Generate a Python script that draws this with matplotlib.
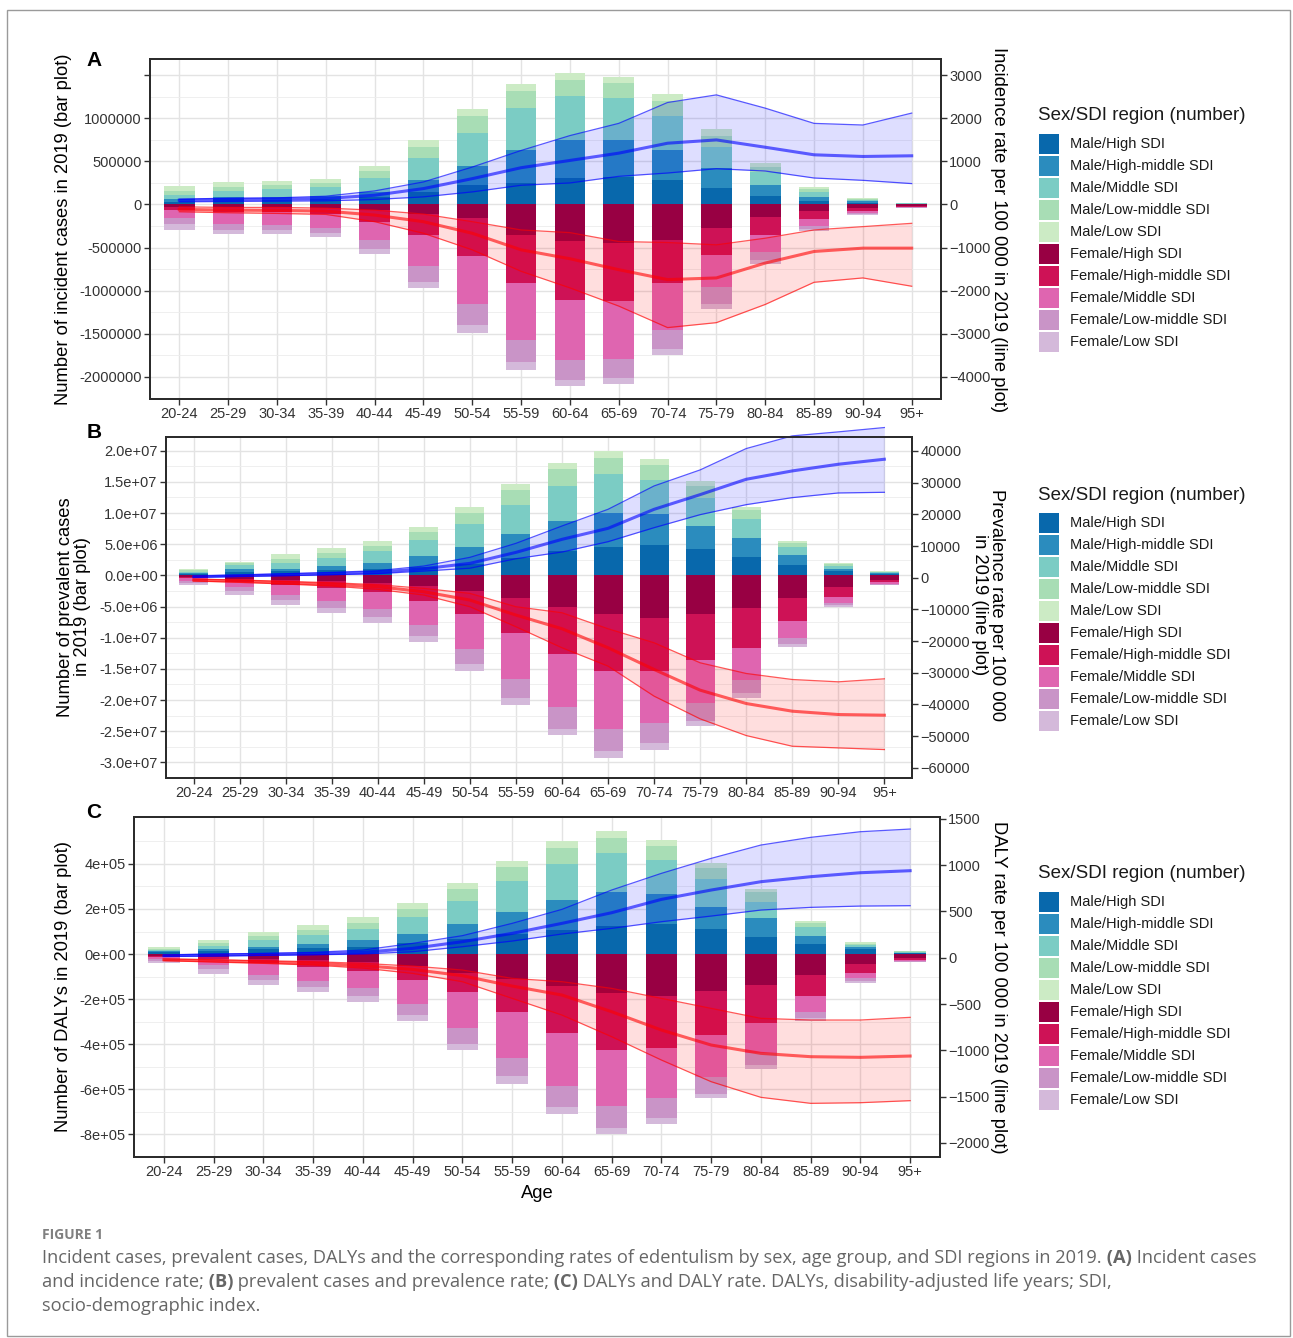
import numpy as np
import matplotlib
matplotlib.use('Agg')
import matplotlib.pyplot as plt
from matplotlib.patches import Rectangle

plt.rcParams['font.family'] = ['Liberation Sans', 'DejaVu Sans']

W, H = 1293, 1338

ages = ['20-24', '25-29', '30-34', '35-39', '40-44', '45-49', '50-54', '55-59',
        '60-64', '65-69', '70-74', '75-79', '80-84', '85-89', '90-94', '95+']
sdi_groups = ['High SDI', 'High-middle SDI', 'Middle SDI', 'Low-middle SDI', 'Low SDI']
male_colours = ['#0868AC', '#2B8CBE', '#7BCCC4', '#A8DDB5', '#CCEBC5']
female_colours = ['#980043', '#CE1256', '#DF65B0', '#C994C7', '#D4B9DA']

# --- A: incident cases (thousands), rows = age group, cols = SDI (High .. Low)
inc_male = np.array([
    [31, 27, 50, 51, 54], [60, 29, 66, 50, 55], [50, 39, 85, 51, 46], [58, 39, 105, 46, 47],
    [81, 66, 159, 82, 54], [147, 136, 252, 136, 77], [230, 216, 387, 194, 82], [250, 382, 484, 206, 77],
    [310, 438, 512, 186, 77], [322, 426, 485, 174, 77], [283, 349, 399, 171, 77], [194, 225, 252, 129, 76],
    [101, 124, 155, 60, 44], [43, 46, 58, 27, 31], [20, 15, 15, 12, 8], [5, 4, 4, 4, 2]]) * 1000
inc_female = np.array([
    [27, 39, 97, 66, 73], [35, 50, 144, 62, 54], [35, 50, 155, 58, 43], [39, 66, 166, 58, 51],
    [66, 135, 214, 104, 55], [105, 252, 360, 182, 74], [163, 438, 558, 244, 89], [357, 554, 667, 251, 90],
    [430, 682, 690, 233, 74], [446, 674, 671, 221, 77], [407, 504, 542, 229, 70], [271, 318, 368, 194, 58],
    [143, 206, 201, 97, 47], [78, 93, 77, 39, 23], [39, 35, 23, 19, 12], [18, 8, 6, 4, 3]]) * 1000
inc_rate_male = [100, 115, 123, 138, 215, 369, 600, 854, 1023, 1192, 1423, 1500, 1330, 1154, 1115, 1131]
inc_rate_male_lo = [62, 69, 77, 85, 115, 177, 292, 446, 500, 654, 731, 831, 777, 615, 561, 485]
inc_rate_male_hi = [123, 146, 154, 192, 315, 523, 869, 1254, 1600, 1884, 2369, 2546, 2238, 1884, 1846, 2123]
inc_rate_female = [115, 131, 138, 154, 246, 400, 669, 1054, 1261, 1515, 1746, 1707, 1361, 1092, 1015, 1015]
inc_rate_female_lo = [54, 69, 69, 85, 131, 223, 400, 592, 654, 861, 884, 938, 784, 592, 515, 438]
inc_rate_female_hi = [169, 192, 208, 231, 400, 669, 1054, 1553, 1938, 2361, 2861, 2746, 2323, 1808, 1707, 1900]

# --- B: prevalent cases (millions)
prev_male = np.array([
    [0.16, 0.21, 0.21, 0.21, 0.16], [0.53, 0.42, 0.68, 0.32, 0.21], [0.68, 0.42, 0.95, 0.63, 0.69],
    [0.79, 0.68, 1.37, 0.74, 0.79], [0.95, 1.05, 1.84, 0.89, 0.79], [1.32, 1.78, 2.53, 1.26, 0.89],
    [1.84, 2.68, 3.68, 1.85, 1.00], [2.79, 3.79, 4.78, 2.32, 1.05], [3.95, 4.73, 5.68, 2.63, 1.05],
    [4.63, 5.36, 6.31, 2.53, 1.05], [4.89, 4.95, 5.52, 2.42, 0.89], [4.16, 3.84, 4.36, 2.00, 0.79],
    [3.00, 3.05, 3.00, 1.47, 0.53], [1.68, 1.53, 1.42, 0.63, 0.32], [0.63, 0.42, 0.40, 0.30, 0.25],
    [0.20, 0.15, 0.12, 0.09, 0.07]]) * 1e6
prev_female = np.array([
    [0.26, 0.21, 0.42, 0.32, 0.32], [0.53, 0.47, 0.84, 0.63, 0.69], [0.68, 0.85, 1.63, 0.79, 0.78],
    [0.89, 1.16, 2.11, 0.99, 0.85], [1.16, 1.58, 2.68, 1.26, 0.89], [1.68, 2.37, 3.89, 1.74, 0.95],
    [2.47, 3.68, 5.69, 2.42, 1.10], [3.63, 5.68, 7.26, 3.10, 1.11], [5.00, 7.68, 8.47, 3.41, 1.11],
    [6.20, 9.21, 9.31, 3.42, 1.16], [6.79, 8.62, 8.26, 3.26, 1.05], [6.20, 7.32, 6.89, 2.89, 0.84],
    [5.15, 6.42, 5.26, 2.11, 0.68], [3.58, 3.68, 2.74, 1.05, 0.42], [1.84, 1.58, 0.94, 0.37, 0.27],
    [0.68, 0.37, 0.26, 0.16, 0.11]]) * 1e6
prev_rate_male = [316, 632, 948, 1264, 1685, 2843, 4528, 8000, 12110, 15585, 21587, 26220, 31064, 33696, 35802, 37381]
prev_rate_male_lo = [105, 421, 632, 948, 1264, 2106, 3000, 6000, 8108, 11372, 15795, 19900, 23055, 25267, 26741, 26952]
prev_rate_male_hi = [527, 842, 1264, 1685, 2211, 3686, 6423, 10846, 16322, 21587, 28958, 34013, 40752, 44753, 46016, 47385]
prev_rate_female = [737, 1053, 1580, 2106, 2843, 4423, 7055, 11793, 16111, 22113, 28958, 35487, 39699, 42120, 43173, 43384]
prev_rate_female_lo = [421, 737, 1158, 1580, 2211, 3370, 4949, 9161, 11057, 16111, 20534, 26852, 30222, 32117, 32854, 31906]
prev_rate_female_hi = [1053, 1474, 2001, 2633, 3686, 5476, 9161, 15479, 22113, 27905, 37382, 44542, 49808, 53177, 53703, 54230]

# --- C: DALYs (thousands)
daly_male = np.array([
    [7.2, 4.3, 7.2, 5.8, 7.2], [14.4, 8.6, 13.0, 14.4, 12.9], [21.6, 11.5, 28.8, 18.7, 18.7],
    [25.9, 20.1, 38.9, 21.6, 21.5], [33.1, 28.8, 48.9, 27.3, 24.5], [47.5, 41.7, 73.4, 36.0, 25.9],
    [64.8, 67.6, 103.6, 51.8, 28.8], [90.7, 96.4, 135.2, 63.4, 28.7], [105, 136.8, 158.2, 69.1, 31.7],
    [126.6, 148.2, 172.7, 69.1, 30.2], [133.8, 132.4, 149.7, 63.3, 25.8], [109.4, 100.7, 120.9, 51.8, 20.2],
    [76.3, 82.0, 73.4, 43.1, 14.4], [43.2, 37.4, 41.7, 14.4, 8.6], [21.6, 8.6, 8.7, 7.1, 5.8],
    [4.0, 3.0, 3.0, 2.5, 1.9]]) * 1000
daly_female = np.array([
    [7.2, 4.3, 8.6, 11.6, 10.0], [13.0, 8.6, 28.8, 17.2, 20.2], [21.6, 20.1, 49.0, 23.0, 21.6],
    [27.3, 31.7, 59.0, 27.3, 23.1], [36.0, 40.3, 76.2, 34.6, 24.4], [53.2, 60.5, 109.3, 46.1, 28.8],
    [82.0, 86.4, 161.1, 69.1, 28.8], [110.8, 146.8, 201.4, 83.5, 31.7], [139.6, 211.5, 234.6, 90.6, 31.7],
    [171.2, 253.3, 250.4, 95.0, 28.7], [184.2, 231.7, 224.5, 86.3, 27.3], [165.5, 194.3, 185.6, 73.4, 21.6],
    [135.3, 169.8, 133.8, 53.2, 18.7], [92.1, 93.5, 72.0, 25.9, 11.5], [43.2, 38.8, 24.5, 12.9, 8.7],
    [17.3, 8.6, 4.3, 2.9, 2.9]]) * 1000
daly_rate_male = [22, 29, 36, 43, 58, 101, 173, 263, 371, 486, 630, 731, 821, 875, 918, 940]
daly_rate_male_lo = [14, 18, 25, 32, 40, 65, 119, 180, 256, 317, 389, 450, 515, 544, 558, 562]
daly_rate_male_hi = [29, 40, 47, 58, 83, 155, 238, 371, 522, 731, 911, 1073, 1217, 1300, 1361, 1390]
daly_rate_female = [22, 32, 47, 61, 86, 126, 194, 306, 403, 583, 781, 943, 1033, 1069, 1076, 1062]
daly_rate_female_lo = [14, 22, 32, 43, 61, 90, 133, 223, 259, 331, 439, 547, 655, 673, 673, 644]
daly_rate_female_hi = [32, 47, 61, 79, 112, 169, 259, 439, 619, 853, 1105, 1339, 1508, 1573, 1566, 1544]

fig = plt.figure(figsize=(W / 100, H / 100), dpi=100)


def fx(px):
    return px / W


def fy(py):
    return 1 - py / H


TEXT_COL = '#333333'
TITLE_SIZE = 13.2


def draw_panel(box, male, female, rates, factor, ylim, ticks, ticklabels, rticks):
    left, top, right, bottom = box
    ax = fig.add_axes([fx(left), fy(bottom), (right - left) / W, (bottom - top) / H])
    x = np.arange(len(ages))

    m_bottom = np.zeros(len(ages))
    f_bottom = np.zeros(len(ages))
    for i in range(5):
        ax.bar(x, male[:, i], 0.63, bottom=m_bottom, color=male_colours[i], linewidth=0, zorder=2)
        m_bottom += male[:, i]
    for i in range(5):
        ax.bar(x, -female[:, i], 0.63, bottom=-f_bottom, color=female_colours[i], linewidth=0, zorder=2)
        f_bottom += female[:, i]

    ax.set_xlim(-0.6, len(ages) - 0.4)
    ax.set_ylim(*ylim)
    ax.set_xticks(x)
    ax.set_xticklabels(ages)
    ax.set_yticks(ticks)
    ax.set_yticklabels(ticklabels)
    step = ticks[1] - ticks[0]
    minor = np.arange(ticks[0] - step / 2, ylim[1], step)
    ax.set_yticks(minor, minor=True)
    ax.grid(which='major', color='#e3e3e3', linewidth=1.0, zorder=0)
    ax.grid(which='minor', axis='y', color='#ededed', linewidth=0.6, zorder=0)
    ax.set_axisbelow(True)
    ax.tick_params(which='minor', length=0)
    ax.tick_params(which='major', length=4, width=1, color=TEXT_COL, labelsize=10.5,
                   labelcolor=TEXT_COL, pad=2)

    ax2 = ax.twinx()
    ax2.set_ylim(ylim[0] / factor, ylim[1] / factor)
    ax2.set_yticks(rticks)
    ax2.tick_params(length=4, width=1, color=TEXT_COL, labelsize=10.5, labelcolor=TEXT_COL, pad=2)

    rm, rm_lo, rm_hi, rf, rf_lo, rf_hi = [np.asarray(r, dtype=float) for r in rates]
    ax2.fill_between(x, rm_lo, rm_hi, color='blue', alpha=0.13, linewidth=0, clip_on=False)
    ax2.fill_between(x, -rf_lo, -rf_hi, color='red', alpha=0.13, linewidth=0, clip_on=False)
    for lo_hi in (rm_lo, rm_hi):
        ax2.plot(x, lo_hi, color='blue', alpha=0.65, lw=0.9, clip_on=False)
    for lo_hi in (rf_lo, rf_hi):
        ax2.plot(x, -lo_hi, color='red', alpha=0.65, lw=0.9, clip_on=False)
    ax2.plot(x, rm, color='blue', alpha=0.6, lw=2.2, clip_on=False)
    ax2.plot(x, -rf, color='red', alpha=0.6, lw=2.2, clip_on=False)

    for a in (ax, ax2):
        for s in a.spines.values():
            s.set_color('#2b2b2b')
            s.set_linewidth(1.3)
    return ax, ax2


def add_legend(title_y):
    # ggplot style legend: title then 20 px keys every 22 px
    fig.text(fx(1038), fy(title_y), 'Sex/SDI region (number)', fontsize=13.5,
             ha='left', va='center', color='#1a1a1a')
    colours = male_colours + female_colours
    labels = ['Male/' + g for g in sdi_groups] + ['Female/' + g for g in sdi_groups]
    for k, (c, lab) in enumerate(zip(colours, labels)):
        yc = title_y + 28 + 22 * k
        fig.patches.append(Rectangle((fx(1039), fy(yc + 10)), 20 / W, 20 / H,
                                     transform=fig.transFigure, facecolor=c, edgecolor='none'))
        fig.text(fx(1070), fy(yc), lab, fontsize=10.5, ha='left', va='center', color='#1a1a1a')


# Panel A
draw_panel((150, 59, 941, 399), inc_male, inc_female,
           (inc_rate_male, inc_rate_male_lo, inc_rate_male_hi,
            inc_rate_female, inc_rate_female_lo, inc_rate_female_hi),
           500, (-2.26e6, 1.69e6),
           [-2e6, -1.5e6, -1e6, -5e5, 0, 5e5, 1e6, 1.5e6],
           ['-2000000', '-1500000', '-1000000', '-500000', '0', '500000', '1000000', ''],
           [-4000, -3000, -2000, -1000, 0, 1000, 2000, 3000])
add_legend(116)

# Panel B
draw_panel((166, 437, 912, 778), prev_male, prev_female,
           (prev_rate_male, prev_rate_male_lo, prev_rate_male_hi,
            prev_rate_female, prev_rate_female_lo, prev_rate_female_hi),
           500, (-3.16e7, 2.22e7),
           [-3e7, -2.5e7, -2e7, -1.5e7, -1e7, -5e6, 0, 5e6, 1e7, 1.5e7, 2e7],
           ['-3.0e+07', '-2.5e+07', '-2.0e+07', '-1.5e+07', '-1.0e+07', '-5.0e+06',
            '0.0e+00', '5.0e+06', '1.0e+07', '1.5e+07', '2.0e+07'],
           [-60000, -50000, -40000, -30000, -20000, -10000, 0, 10000, 20000, 30000, 40000])
add_legend(495)

# Panel C
draw_panel((134, 817, 940, 1157), daly_male, daly_female,
           (daly_rate_male, daly_rate_male_lo, daly_rate_male_hi,
            daly_rate_female, daly_rate_female_lo, daly_rate_female_hi),
           400, (-8.61e5, 6.08e5),
           [-8e5, -6e5, -4e5, -2e5, 0, 2e5, 4e5],
           ['-8e+05', '-6e+05', '-4e+05', '-2e+05', '0e+00', '2e+05', '4e+05'],
           [-2000, -1500, -1000, -500, 0, 500, 1000, 1500])
add_legend(874)

# panel letters and axis titles
for letter, py in (('A', 60), ('B', 432), ('C', 813)):
    fig.text(fx(94), fy(py), letter, fontsize=15, fontweight='bold', ha='center', va='center')

fig.text(fx(64), fy(229), 'Number of incident cases in 2019 (bar plot)', rotation=90,
         fontsize=TITLE_SIZE, ha='center', va='center')
fig.text(fx(74), fy(607), 'Number of prevalent cases\nin 2019 (bar plot)', rotation=90,
         fontsize=TITLE_SIZE, ha='center', va='center', linespacing=1.0)
fig.text(fx(64), fy(987), 'Number of DALYs in 2019 (bar plot)', rotation=90,
         fontsize=TITLE_SIZE, ha='center', va='center')

fig.text(fx(998), fy(230), 'Incidence rate per 100 000 in 2019 (line plot)', rotation=270,
         fontsize=TITLE_SIZE, ha='center', va='center')
fig.text(fx(988), fy(605), 'Prevalence rate per 100 000\nin 2019 (line plot)', rotation=270,
         fontsize=TITLE_SIZE, ha='center', va='center', linespacing=1.0)
fig.text(fx(998), fy(987), 'DALY rate per 100 000 in 2019 (line plot)', rotation=270,
         fontsize=TITLE_SIZE, ha='center', va='center')
fig.text(fx(537), fy(1193), 'Age', fontsize=TITLE_SIZE, ha='center', va='center')

# caption
CAP_COL = '#666666'
fig.text(fx(42), fy(1235), 'FIGURE 1', fontsize=10, color='#808080', family='Open Sans',
         fontweight='bold', va='center')

renderer = fig.canvas.get_renderer()


def rich_line(px, py, pieces, size=13.15):
    x0 = fx(px)
    for s, w in pieces:
        t = fig.text(x0, fy(py), s, fontsize=size, fontweight=w, color=CAP_COL,
                     family='Open Sans', va='center')
        x0 += t.get_window_extent(renderer).width / W


rich_line(42, 1258, [('Incident cases, prevalent cases, DALYs and the corresponding rates of edentulism '
                      'by sex, age group, and SDI regions in 2019.', 'normal'),
                     (' (A)', 'bold'), (' Incident cases', 'normal')])
rich_line(42, 1282, [('and incidence rate;', 'normal'), (' (B)', 'bold'),
                     (' prevalent cases and prevalence rate;', 'normal'), (' (C)', 'bold'),
                     (' DALYs and DALY rate. DALYs, disability-adjusted life years; SDI,', 'normal')])
rich_line(42, 1306, [('socio-demographic index.', 'normal')])

fig.patches.append(Rectangle((fx(7), fy(1336)), (1290 - 7) / W, (1336 - 10) / H,
                             transform=fig.transFigure, fill=False, edgecolor='#9a9a9a', lw=1))

fig.savefig('out.png', dpi=100)
